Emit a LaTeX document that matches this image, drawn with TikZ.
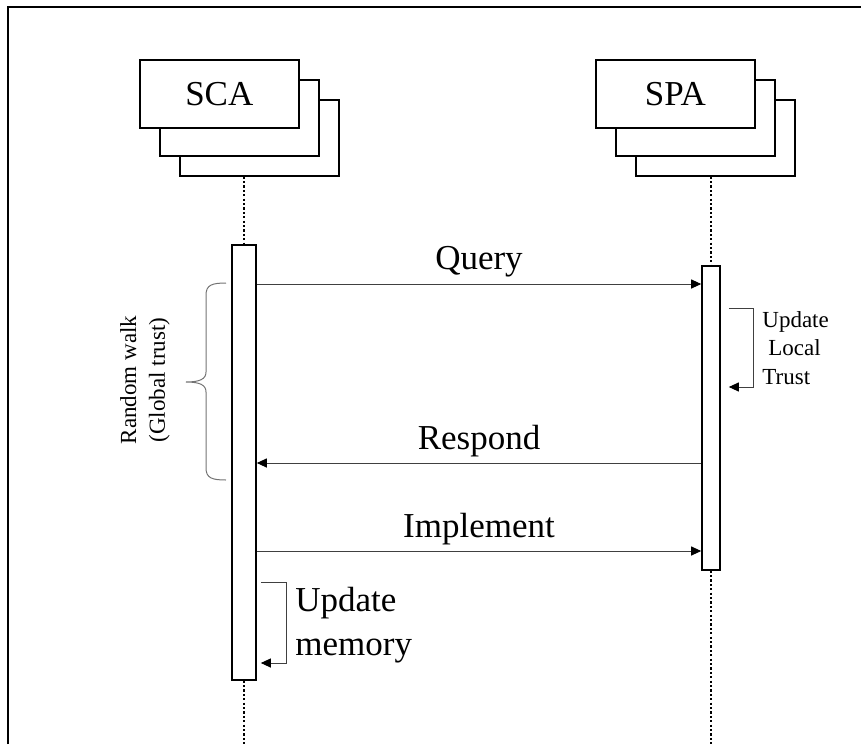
\documentclass[tikz,border=0pt]{standalone}
\usepackage{fontspec}
\setmainfont{Liberation Serif}
\usetikzlibrary{arrows.meta}

\begin{document}
\begin{tikzpicture}[x=0.5pt,y=-0.5pt,>={Triangle[length=5pt,width=4.5pt,color=black]},
                    agent/.style={draw,fill=white,line width=0.8pt,inner sep=0pt,
                                  minimum width=79.5pt,minimum height=34pt,
                                  font=\fontsize{17.5}{21}\selectfont},
                    copy/.style={draw,fill=white,line width=0.8pt,inner sep=0pt,
                                 minimum width=79.5pt,minimum height=38pt},
                    bar/.style={draw,fill=white,line width=0.8pt,inner sep=0pt},
                    lifeline/.style={line width=1.3pt,dash pattern=on 1.1pt off 1.1pt},
                    msg/.style={->,draw=black!75,line width=0.5pt},
                    lbl/.style={above,inner sep=3pt,text=black,
                                font=\fontsize{17.5}{21}\selectfont},
                    note/.style={inner sep=0pt,align=left,
                                 font=\fontsize{11.5}{14.3}\selectfont},
                    bignote/.style={inner sep=0pt,align=left,
                                    font=\fontsize{17.5}{22}\selectfont}]
	\useasboundingbox (0,0) rectangle (861,744);
	\coordinate (floor) at (0,744);
	% frame
	\draw[line width=1pt] (8,744) -- (8,7) -- (861,7);

	% agents
	\node[copy,anchor=north west]	(sca3)	at (179,99)	{};
	\node[copy,anchor=north west]	(sca2)	at (159,79)	{};
	\node[agent,anchor=north west]	(sca)	at (139,59)	{SCA};
	\node[copy,anchor=north west]	(spa3)	at (635,99)	{};
	\node[copy,anchor=north west]	(spa2)	at (615,79)	{};
	\node[agent,anchor=north west]	(spa)	at (595,59)	{SPA};

	% activation bars
	\node[bar,anchor=north,minimum width=12pt,minimum height=217.5pt]	(scabar)	at (244,244)	{};
	\node[bar,anchor=north,minimum width=9pt,minimum height=152pt]	(spabar)	at (711,265)	{};

	% lifelines
	\draw[lifeline] (scabar.north |- sca3.south) -- (scabar.north);
	\draw[lifeline] (scabar.south) -- (scabar.south |- floor);
	\draw[lifeline] (spabar.north |- spa3.south) -- (spabar.north);
	\draw[lifeline] (spabar.south) -- (spabar.south |- floor);

	% messages
	\draw[msg] (scabar.east |- 0,284) -- node[lbl]{Query}		(spabar.west |- 0,284);
	\draw[msg] (spabar.west |- 0,463) -- node[lbl]{Respond}		(scabar.east |- 0,463);
	\draw[msg] (scabar.east |- 0,551) -- node[lbl]{Implement}	(spabar.west |- 0,551);

	% self updates
	\draw[msg] ([xshift=4pt]spabar.east |- 0,308) -- ++(25,0) |- ([xshift=4pt]spabar.east |- 0,387);
	\node[note,anchor=west]	(trust)	at (762,348)	{Update\\\hspace*{3pt}Local\\Trust};
	\draw[msg] ([xshift=2pt]scabar.east |- 0,582) -- ++(26,0) |- ([xshift=2pt]scabar.east |- 0,663);
	\node[bignote,anchor=west]	(memory)	at (295,625)	{Update\\memory};

	% brace
	\draw[draw=black!55,line width=0.5pt] (226,283) .. controls (212,283) and (206,285) .. (206,295)
		-- (206,372) .. controls (206,379) and (200,382) .. (186,382)
		.. controls (200,382) and (206,385) .. (206,392)
		-- (206,468) .. controls (206,478) and (212,480) .. (226,480);
	\node[note,rotate=90,align=center]	(walk)	at (145,380)	{Random walk\\(Global trust)};
\end{tikzpicture}
\end{document}
